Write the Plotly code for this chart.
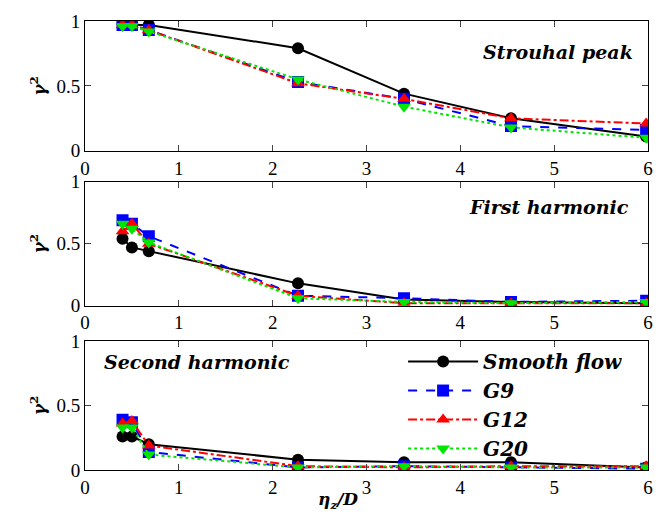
import plotly.graph_objects as go
from plotly.subplots import make_subplots

eta = [0.4, 0.5, 0.68, 2.27, 3.4, 4.54, 5.98]
series_names = ["Smooth flow", "G9", "G12", "G20"]

strouhal = {
    "Smooth flow": [0.98, 0.97, 0.97, 0.79, 0.44, 0.25, 0.11],
    "G9": [0.97, 0.97, 0.93, 0.53, 0.40, 0.19, 0.16],
    "G12": [0.97, 0.97, 0.93, 0.52, 0.40, 0.25, 0.21],
    "G20": [0.96, 0.96, 0.92, 0.55, 0.34, 0.18, 0.10],
}
first = {
    "Smooth flow": [0.54, 0.47, 0.44, 0.18, 0.05, 0.03, 0.02],
    "G9": [0.69, 0.66, 0.56, 0.08, 0.06, 0.03, 0.04],
    "G12": [0.60, 0.66, 0.50, 0.08, 0.02, 0.02, 0.02],
    "G20": [0.66, 0.62, 0.51, 0.06, 0.03, 0.02, 0.03],
}
second = {
    "Smooth flow": [0.26, 0.26, 0.20, 0.08, 0.06, 0.06, 0.02],
    "G9": [0.39, 0.37, 0.14, 0.02, 0.03, 0.02, 0.01],
    "G12": [0.36, 0.38, 0.19, 0.03, 0.02, 0.03, 0.03],
    "G20": [0.33, 0.33, 0.12, 0.02, 0.03, 0.02, 0.02],
}
panel_titles = ["Strouhal peak", "First harmonic", "Second harmonic"]
x_ticks = [0, 1, 2, 3, 4, 5, 6]
y_ticks = [0, 0.5, 1]
y_ticklabels = ["0", "0.5", "1"]

styles = {
    "Smooth flow": dict(color="black", dash="solid", symbol="circle"),
    "G9": dict(color="#0000ff", dash="dash", symbol="square"),
    "G12": dict(color="#ff0000", dash="dashdot", symbol="triangle-up"),
    "G20": dict(color="#00e600", dash="dot", symbol="triangle-down"),
}

fig = make_subplots(rows=3, cols=1)
panels = [strouhal, first, second]
for r, data in enumerate(panels, start=1):
    for name in series_names:
        s = styles[name]
        fig.add_trace(go.Scatter(
            x=eta, y=data[name], name="<b><i>" + name + "</i></b>", mode="lines+markers",
            line=dict(color=s["color"], dash=s["dash"], width=2),
            marker=dict(symbol=s["symbol"], size=12, color=s["color"]),
            showlegend=(r == 3),
        ), row=r, col=1)

domains = [[0.711, 1.0], [0.366, 0.642], [0.0, 0.287]]
tickfont = dict(family="Liberation Serif", size=19, color="black")
titlefont = dict(family="DejaVu Serif", size=17, color="black")
for i in range(3):
    ax = "" if i == 0 else str(i + 1)
    fig.layout["yaxis" + ax].update(
        domain=domains[i], range=[0, 1], tickvals=y_ticks, ticktext=y_ticklabels,
        ticks="inside", ticklen=6, mirror="ticks", showline=True, linecolor="black",
        linewidth=1, showgrid=False, zeroline=False, tickfont=tickfont,
        title=dict(text="<b><i>γ</i><sup>2</sup></b>", font=titlefont, standoff=6),
    )
    fig.layout["xaxis" + ax].update(
        range=[0, 6], tickvals=x_ticks, ticks="inside", ticklen=6, mirror="ticks",
        showline=True, linecolor="black", linewidth=1, showgrid=False, zeroline=False,
        tickfont=tickfont,
    )

fig.add_annotation(text="<b><i>η<sub>z</sub>/D</i></b>", xref="x3 domain", yref="paper",
                   x=0.45, y=-0.068, xanchor="center", yanchor="middle", showarrow=False, font=titlefont)

annfont = dict(family="DejaVu Serif", size=19, color="black")
fig.add_annotation(text="<b><i>" + panel_titles[0] + "</i></b>", xref="x domain", yref="y domain", x=0.977, y=0.76, xanchor="right", yanchor="middle", showarrow=False, font=annfont)
fig.add_annotation(text="<b><i>" + panel_titles[1] + "</i></b>", xref="x2 domain", yref="y2 domain", x=0.97, y=0.80, xanchor="right", yanchor="middle", showarrow=False, font=annfont)
fig.add_annotation(text="<b><i>" + panel_titles[2] + "</i></b>", xref="x3 domain", yref="y3 domain", x=0.03, y=0.84, xanchor="left", yanchor="middle", showarrow=False, font=annfont)

fig.update_layout(
    width=664, height=524, margin=dict(l=85, r=11, t=17, b=54),
    plot_bgcolor="white", paper_bgcolor="white",
    legend=dict(x=0.565, y=0.285, xanchor="left", yanchor="top", bgcolor="rgba(0,0,0,0)",
                font=dict(family="DejaVu Serif", size=20, color="black"),
                itemwidth=70, tracegroupgap=0),
)

fig.write_html("out.html")
